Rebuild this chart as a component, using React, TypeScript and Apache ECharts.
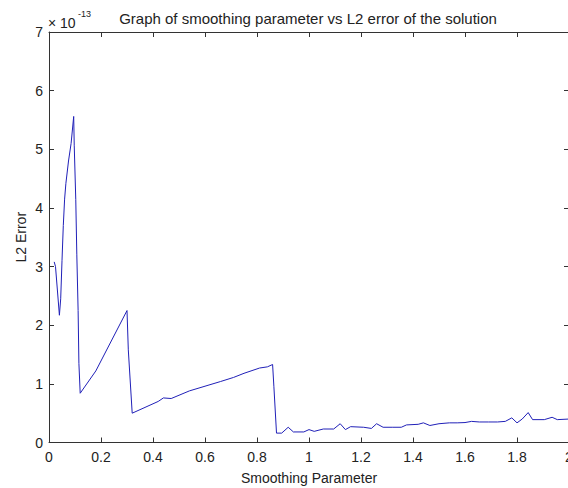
import React, { useEffect, useRef } from "react";
import * as echarts from "echarts";

// Smoothing parameter (x) and L2 error (y, in units of 1e-13)
const smoothingParam = [
  0.02, 0.025, 0.04, 0.045, 0.05, 0.055, 0.06, 0.065, 0.075, 0.085, 0.095,
  0.097, 0.103, 0.107, 0.112, 0.115, 0.12, 0.18, 0.3, 0.305, 0.32, 0.42,
  0.44, 0.47, 0.54, 0.66, 0.71, 0.75, 0.81, 0.84, 0.86, 0.865, 0.875, 0.895,
  0.92, 0.94, 0.98, 1.0, 1.02, 1.055, 1.095, 1.12, 1.14, 1.16, 1.21, 1.24,
  1.26, 1.285, 1.32, 1.355, 1.375, 1.42, 1.44, 1.465, 1.5, 1.54, 1.57, 1.6,
  1.625, 1.655, 1.69, 1.725, 1.755, 1.78, 1.8, 1.82, 1.843, 1.86, 1.905,
  1.935, 1.955, 2.0,
];
const l2Error = [
  3.08, 3.0, 2.17, 2.45, 3.1, 3.7, 4.15, 4.42, 4.8, 5.1, 5.56,
  5.07, 4.14, 3.2, 2.25, 1.35, 0.84, 1.22, 2.25, 1.58, 0.5, 0.7,
  0.76, 0.75, 0.88, 1.04, 1.11, 1.18, 1.27, 1.29, 1.33, 0.95, 0.16, 0.16,
  0.26, 0.18, 0.18, 0.22, 0.19, 0.23, 0.23, 0.32, 0.22, 0.27, 0.26, 0.24,
  0.32, 0.26, 0.26, 0.26, 0.3, 0.31, 0.335, 0.29, 0.32, 0.335, 0.335, 0.34,
  0.36, 0.35, 0.35, 0.35, 0.36, 0.42, 0.335, 0.4, 0.51, 0.39, 0.39,
  0.43, 0.39, 0.4,
];
const EXPONENT = "-13";
const TITLE = "Graph of smoothing parameter vs L2 error of the solution";
const X_NAME = "Smoothing Parameter";
const Y_NAME = "L2 Error";

export default function App() {
  const ref = useRef<HTMLDivElement>(null);
  useEffect(() => {
    const chart = echarts.init(ref.current!, null, { renderer: "svg" });
    const font = "'Liberation Sans', Arial, Helvetica, sans-serif";
    const axisColor = "#333";
    const textColor = "#222";
    const fs = 14;
    const baseX = {
      type: "value",
      min: 0,
      max: 2,
      interval: 0.2,
      axisLine: { show: true, onZero: false, lineStyle: { color: axisColor, width: 1 } },
      axisTick: { show: true, inside: true, length: 5, lineStyle: { color: axisColor } },
      splitLine: { show: false },
    };
    const baseY = {
      type: "value",
      min: 0,
      max: 7,
      interval: 1,
      axisLine: { show: true, onZero: false, lineStyle: { color: axisColor, width: 1 } },
      axisTick: { show: true, inside: true, length: 5, lineStyle: { color: axisColor } },
      splitLine: { show: false },
    };
    chart.setOption({
      animation: false,
      backgroundColor: "#ffffff",
      textStyle: { fontFamily: font },
      grid: { left: 49, top: 32, right: -1, bottom: 45.5, outerBoundsMode: "none" },
      xAxis: [
        {
          ...baseX,
          position: "bottom",
          axisLabel: {
            margin: 7,
            fontSize: fs,
            color: textColor,
            fontFamily: font,
            formatter: (v: number) => String(+v.toFixed(1)),
          },
          name: X_NAME,
          nameLocation: "middle",
          nameGap: 28,
          nameMoveOverlap: false,
          nameTextStyle: { fontSize: fs, color: textColor, fontFamily: font },
        },
        { ...baseX, position: "top", axisLabel: { show: false } },
      ],
      yAxis: [
        {
          ...baseY,
          position: "left",
          axisLabel: { margin: 6, fontSize: fs, color: textColor, fontFamily: font },
          name: Y_NAME,
          nameLocation: "middle",
          nameRotate: 90,
          nameGap: 21,
          nameMoveOverlap: false,
          nameTextStyle: { fontSize: fs, color: textColor, fontFamily: font },
        },
        { ...baseY, position: "right", axisLabel: { show: false } },
      ],
      graphic: [
        {
          type: "text",
          x: 308,
          y: 18,
          style: {
            text: TITLE,
            align: "center",
            verticalAlign: "middle",
            fontSize: 15,
            fontFamily: font,
            fill: textColor,
          },
        },
        {
          type: "text",
          x: 48,
          y: 23,
          style: {
            text: "× 10",
            align: "left",
            verticalAlign: "middle",
            fontSize: fs,
            fontFamily: font,
            fill: textColor,
          },
        },
        {
          type: "text",
          x: 78,
          y: 14,
          style: {
            text: EXPONENT,
            align: "left",
            verticalAlign: "middle",
            fontSize: 9,
            fontFamily: font,
            fill: textColor,
          },
        },
      ],
      series: [
        {
          type: "line",
          xAxisIndex: 0,
          yAxisIndex: 0,
          data: smoothingParam.map((x, i) => [x, l2Error[i]]),
          symbol: "none",
          lineStyle: { color: "#2020b8", width: 1 },
          clip: true,
        },
      ],
    });
    return () => chart.dispose();
  }, []);
  return (
    <div
      ref={ref}
      style={{ position: "fixed", left: 0, top: 0, width: 568, height: 488, background: "#fff" }}
    />
  );
}
